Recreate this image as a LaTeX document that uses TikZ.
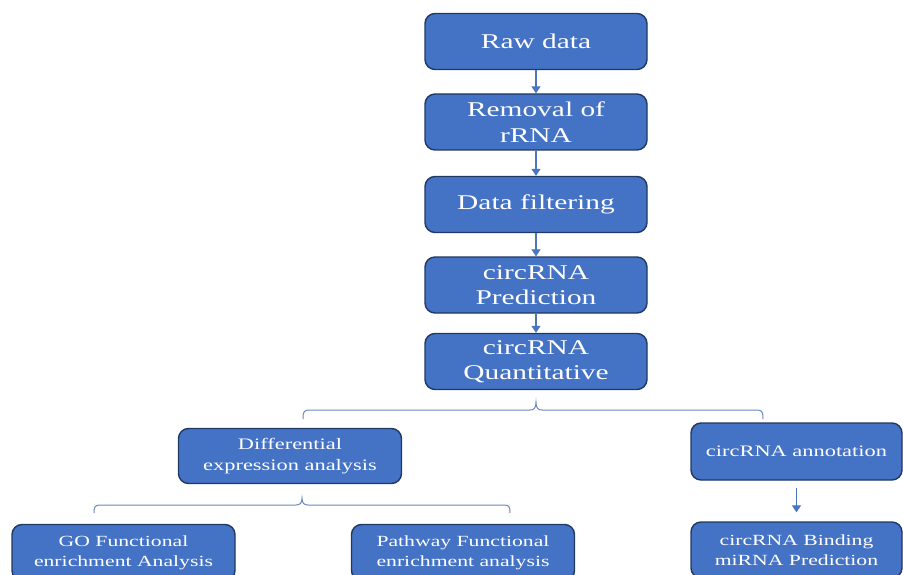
\documentclass[tikz,border=0pt]{standalone}
\usepackage{fontspec}
\newfontfamily\boxfont[FakeStretch=1.4]{Liberation Serif}
\usetikzlibrary{arrows.meta,calc}
\definecolor{boxblue}{HTML}{4472C4}
\definecolor{boxedge}{HTML}{203864}
\definecolor{linkblue}{HTML}{4A76C0}
\definecolor{bracecol}{HTML}{6A88BC}
\begin{document}
\begin{tikzpicture}[x=1pt,y=-1pt,
  box/.style={draw=boxedge, line width=1.4pt, fill=boxblue, rounded corners=10pt,
    text=white, align=center, inner sep=0pt},
  bigbox/.style={box, minimum width=222pt, minimum height=56pt,
    font=\boxfont\fontsize{21}{25.5}\selectfont},
  midbox/.style={box, minimum width=223pt, minimum height=55pt,
    font=\boxfont\fontsize{16}{21}\selectfont},
  smallbox/.style={box, minimum width=223pt, minimum height=56pt,
    font=\boxfont\fontsize{15.5}{20}\selectfont},
  link/.style={draw=linkblue, line width=1.1pt, -{Triangle[width=9pt,length=7pt]}},
  bracket/.style={draw=bracecol, line width=1pt}]
\clip (0,0) rectangle (903,575);
\fill[white] (0,0) rectangle (903,575);

\node[bigbox] (raw)   at (536,41.5)  {Raw data};
\node[bigbox] (rem)   at (536,122)   {Removal of\\rRNA};
\node[bigbox] (filt)  at (536,204.5) {Data filtering};
\node[bigbox] (pred)  at (536,285)   {circRNA\\Prediction};
\node[bigbox] (quant) at (536,361.5) {circRNA\\Quantitative};

\node[midbox] (diff) at (290,456) {Differential\\expression analysis};
\node[midbox, minimum width=211pt, minimum height=57pt] (annot) at (796.5,451.5) {circRNA annotation};

\node[smallbox] (go)   at (123.5,552.5) {GO Functional\\enrichment Analysis};
\node[smallbox] (path) at (463,552.5)   {Pathway Functional\\enrichment analysis};
\node[smallbox, minimum width=211pt] (bind) at (796.5,550) {circRNA Binding\\miRNA Prediction};

\draw[link] (raw.south)  -- (rem.north);
\draw[link] (rem.south)  -- (filt.north);
\draw[link] (filt.south) -- (pred.north);
\draw[link] (pred.south) -- (quant.north);
\draw[link, shorten <=7pt, shorten >=9pt] (annot.south) -- (bind.north);

% first bracket
\coordinate (tipA) at ($(quant.south)+(0,12)$);
\coordinate (lA) at (303,419);
\coordinate (rA) at (763,419);
\draw[bracket] (lA) .. controls (303,412) and (304,410) .. (309,410)
  -- (530,410) .. controls (534,410) and (536,408) .. (tipA)
  .. controls (536,408) and (538,410) .. (542,410)
  -- (757,410) .. controls (762,410) and (763,412) .. (rA);

% second bracket
\coordinate (tipB) at ($(diff.south)+(12,14)$);
\coordinate (lB) at (94,513);
\coordinate (rB) at (510,513);
\draw[bracket] (lB) .. controls (94,507) and (95,505) .. (100,505)
  -- (296,505) .. controls (300,505) and (302,503) .. (tipB)
  .. controls (302,503) and (304,505) .. (308,505)
  -- (504,505) .. controls (509,505) and (510,507) .. (rB);
\end{tikzpicture}
\end{document}
